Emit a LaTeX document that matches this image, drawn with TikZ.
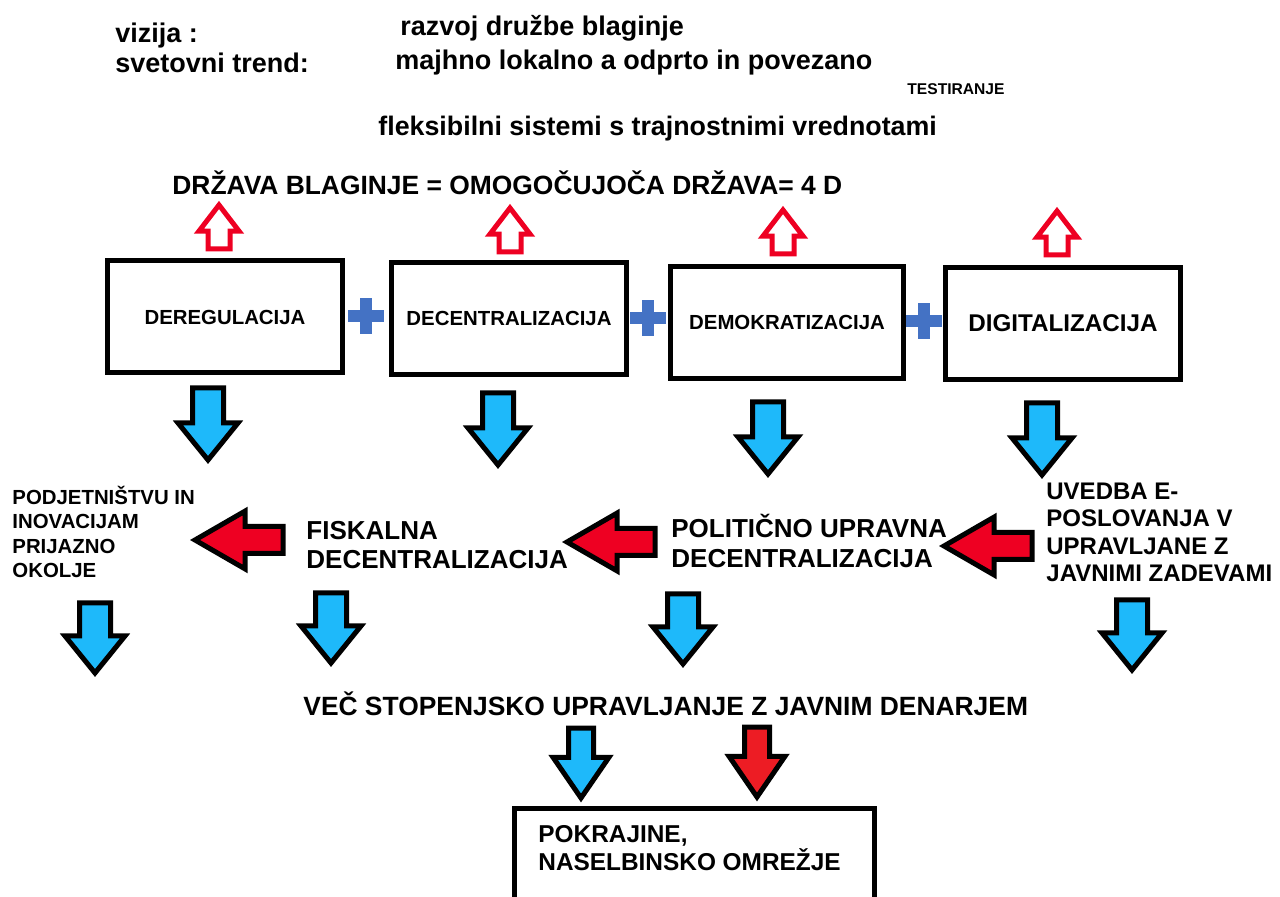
\documentclass[tikz,border=0pt]{standalone}
\usepackage{fontspec}
\setmainfont{Liberation Sans}
\usepackage{xcolor}
\usepackage{tikz}
\usetikzlibrary{shapes.arrows,positioning}

\definecolor{skyblue}{RGB}{30,185,250}
\definecolor{signred}{RGB}{238,0,34}
\definecolor{brightred}{RGB}{237,28,36}
\definecolor{plusblue}{RGB}{68,114,196}

\begin{document}
\begin{tikzpicture}
	[x=0.5pt,y=-0.5pt,
	txt/.style={anchor=base west,inner sep=0pt,align=left,font=\bfseries\fontsize{13.5}{16}\selectfont},
	bigtxt/.style={txt,font=\bfseries\fontsize{13.2}{15}\selectfont},
	pillar/.style={draw,line width=2.5pt,minimum width=117.5pt,minimum height=56pt,inner sep=0pt,
		font=\bfseries\fontsize{10.2}{12}\selectfont},
	blockdown/.style={single arrow,draw,line width=2.5pt,fill=skyblue,rotate=-90,anchor=tail,inner xsep=0pt,inner ysep=6.5pt,
		minimum height=36pt,single arrow head extend=7.25pt,single arrow tip angle=78},
	blockup/.style={single arrow,draw=signred,line width=2.5pt,fill=white,rotate=90,anchor=tail,inner xsep=0pt,inner ysep=4.25pt,
		minimum height=22pt,single arrow head extend=4.5pt,single arrow tip angle=75},
	blockleft/.style={single arrow,draw,line width=2.5pt,fill=signred,rotate=180,anchor=tail,inner xsep=0pt,inner ysep=5.5pt,
		minimum height=44pt,single arrow head extend=7.75pt,single arrow tip angle=60},
	plussign/.style={minimum size=18pt,inner sep=0pt,
		path picture={\fill[plusblue] ([yshift=-3pt]path picture bounding box.west) rectangle ([yshift=3pt]path picture bounding box.east);
			\fill[plusblue] ([xshift=-3pt]path picture bounding box.south) rectangle ([xshift=3pt]path picture bounding box.north);}}]
	\useasboundingbox (0,0) rectangle (1280,897);

	% heading
	\node[txt] (vision) at (115,43) {vizija :};
	\node[txt] (visiontxt) at (400,36) {razvoj družbe blaginje};
	\node[txt] (trend) at (115,73) {svetovni trend:};
	\node[txt] (trendtxt) at (395,70) {majhno lokalno a odprto in povezano};
	\node[txt,font=\bfseries\fontsize{7.8}{9}\selectfont] (testing) at (907,95) {TESTIRANJE};
	\node[txt,font=\bfseries\fontsize{13.4}{16}\selectfont] (flex) at (378,136) {fleksibilni sistemi s trajnostnimi vrednotami};
	\node[bigtxt] (welfare) at (172,195) {DRŽAVA BLAGINJE = OMOGOČUJOČA DRŽAVA= 4 D};

	% the four D
	\node[pillar] (dereg) at (225,317) {DEREGULACIJA};
	\node[pillar] (decen) at (509,318.5) {DECENTRALIZACIJA};
	\node[pillar,minimum width=116.5pt] (democ) at (787,322.5) {DEMOKRATIZACIJA};
	\node[pillar,font=\bfseries\fontsize{12.1}{14}\selectfont] (digit) at (1063,323.5) {DIGITALIZACIJA};
	\node[plussign] (plus1) at (366,316) {};
	\node[plussign] (plus2) at (648,318) {};
	\node[plussign] (plus3) at (924,321) {};

	\node[blockup] (up1) at (219,251.5) {};
	\node[blockup] (up2) at (510,254.5) {};
	\node[blockup] (up3) at (783,256.5) {};
	\node[blockup] (up4) at (1057,257.5) {};

	\node[blockdown] (down1) at (208,385.5) {};
	\node[blockdown] (down2) at (498,390.5) {};
	\node[blockdown] (down3) at (768,399.5) {};
	\node[blockdown] (down4) at (1042,400.5) {};

	% results
	\node[txt,font=\bfseries\fontsize{10.2}{12.3}\selectfont] (friendly) at (12,578) {PODJETNIŠTVU IN\\INOVACIJAM\\PRIJAZNO\\OKOLJE};
	\node[txt,font=\bfseries\fontsize{13}{14.5}\selectfont] (fiscal) at (306,569) {FISKALNA\\DECENTRALIZACIJA};
	\node[txt,font=\bfseries\fontsize{13}{15}\selectfont] (political) at (671,568) {POLITIČNO UPRAVNA\\DECENTRALIZACIJA};
	\node[txt,font=\bfseries\fontsize{12}{13.8}\selectfont] (ebusiness) at (1046,582) {UVEDBA E-\\POSLOVANJA V\\UPRAVLJANE Z\\JAVNIMI ZADEVAMI};

	\node[blockleft] (left1) at (285.5,540) {};
	\node[blockleft] (left2) at (657.5,542) {};
	\node[blockleft] (left3) at (1034.5,546) {};

	\node[blockdown,minimum height=35pt] (low1) at (95,600.5) {};
	\node[blockdown,minimum height=35pt] (low2) at (331,590.5) {};
	\node[blockdown,minimum height=35pt] (low3) at (683,591.5) {};
	\node[blockdown,minimum height=35pt] (low4) at (1132,597.5) {};

	\node[bigtxt] (multilevel) at (303,715) {VEČ STOPENJSKO UPRAVLJANJE Z JAVNIM DENARJEM};

	\node[blockdown,minimum height=35pt,inner ysep=5pt,single arrow head extend=7.75pt,single arrow tip angle=69] (fin1) at (581,725.5) {};
	\node[blockdown,fill=brightred,minimum height=35pt,inner ysep=5pt,single arrow head extend=7.75pt,single arrow tip angle=69] (fin2) at (757,724.5) {};

	\node[draw,line width=2.5pt,minimum width=180pt,minimum height=80pt,anchor=north] (region) at (694.5,805.5) {};
	\node[txt,font=\bfseries\fontsize{12.2}{14}\selectfont] (regiontxt) at (538,870) {POKRAJINE,\\NASELBINSKO OMREŽJE};
\end{tikzpicture}
\end{document}
